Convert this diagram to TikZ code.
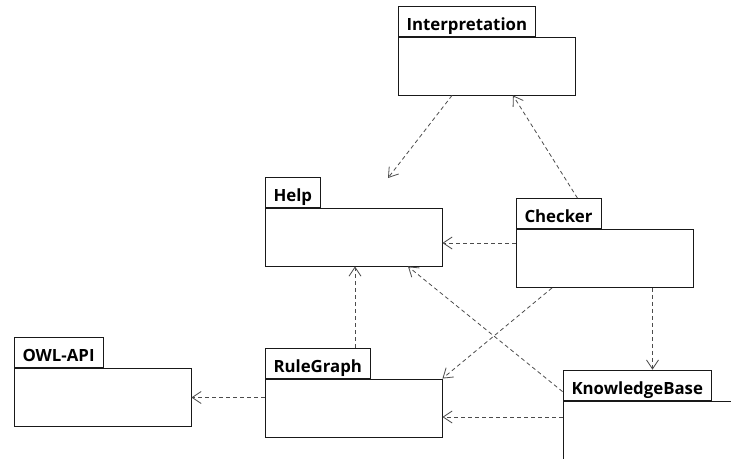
\documentclass[tikz,border=0pt]{standalone}
\usepackage{fontspec}
\setmainfont{Open Sans}
\usetikzlibrary{arrows.meta,positioning}

\begin{document}
\begin{tikzpicture}[
        x=1pt, y=-1pt,
        pkg/.style={rectangle, draw=black!90, line width=0.9pt, minimum width=177pt, minimum height=58pt, inner sep=0pt},
        pkgtab/.style={rectangle, draw=black!90, line width=0.9pt, minimum height=30pt, inner xsep=8.5pt, inner ysep=0pt,
            text height=18pt, text depth=0pt, font=\fontsize{16.8}{18}\selectfont\bfseries, anchor=south west},
        dep/.style={draw=black!70, line width=0.8pt, dash pattern=on 4pt off 3pt,
            -{Straight Barb[length=9pt,width=12pt,line width=0.8pt]}},
    ]
        \useasboundingbox (0,0) rectangle (731,458);
        \clip (0,0) rectangle (731,458);

        % packages
        \node[pkg] (interp) at (486.5, 66) {};
        \node[pkgtab, above right=0pt and 0pt of interp.north west] (interptab) {Interpretation};
        \node[pkg] (help) at (353.5, 237) {};
        \node[pkgtab, above right=0pt and 0pt of help.north west] (helptab) {Help};
        \node[pkg] (checker) at (604.5, 258.5) {};
        \node[pkgtab, above right=0pt and 0pt of checker.north west] (checkertab) {Checker};
        \node[pkg] (owl) at (102.5, 397.5) {};
        \node[pkgtab, above right=0pt and 0pt of owl.north west] (owltab) {OWL-API};
        \node[pkg] (rulegraph) at (353.5, 408) {};
        \node[pkgtab, above right=0pt and 0pt of rulegraph.north west] (rulegraphtab) {RuleGraph};
        \node[pkg] (kb) at (651.5, 430) {};
        \node[pkgtab, above right=0pt and 0pt of kb.north west] (kbtab) {KnowledgeBase};

        \coordinate (helpin) at (388, 178);

        % dependencies
        \draw[dep] ([xshift=-34.5pt]interp.south) -- (helpin);
        \draw[dep] ([xshift=19pt]checkertab.north) -- ([xshift=26.5pt]interp.south);
        \draw[dep] ([yshift=15.5pt]checker.west) -- ([yshift=15.5pt]checker.west -| help.east);
        \draw[dep] ([xshift=1.5pt]help.south |- rulegraphtab.north) -- ([xshift=1.5pt]help.south);
        \draw[dep] ([yshift=-6.5pt]kbtab.west) -- ([xshift=54.5pt]help.south);
        \draw[dep] ([xshift=-52.5pt]checker.south) -- (rulegraph.north east);
        \draw[dep] ([xshift=48pt]checker.south) -- ([xshift=48pt]checker.south |- kbtab.north);
        \draw[dep] ([yshift=13pt]kb.west) -- ([yshift=13pt]kb.west -| rulegraph.east);
        \draw[dep] (owl.east -| rulegraph.west) -- (owl.east);
    \end{tikzpicture}
\end{document}
